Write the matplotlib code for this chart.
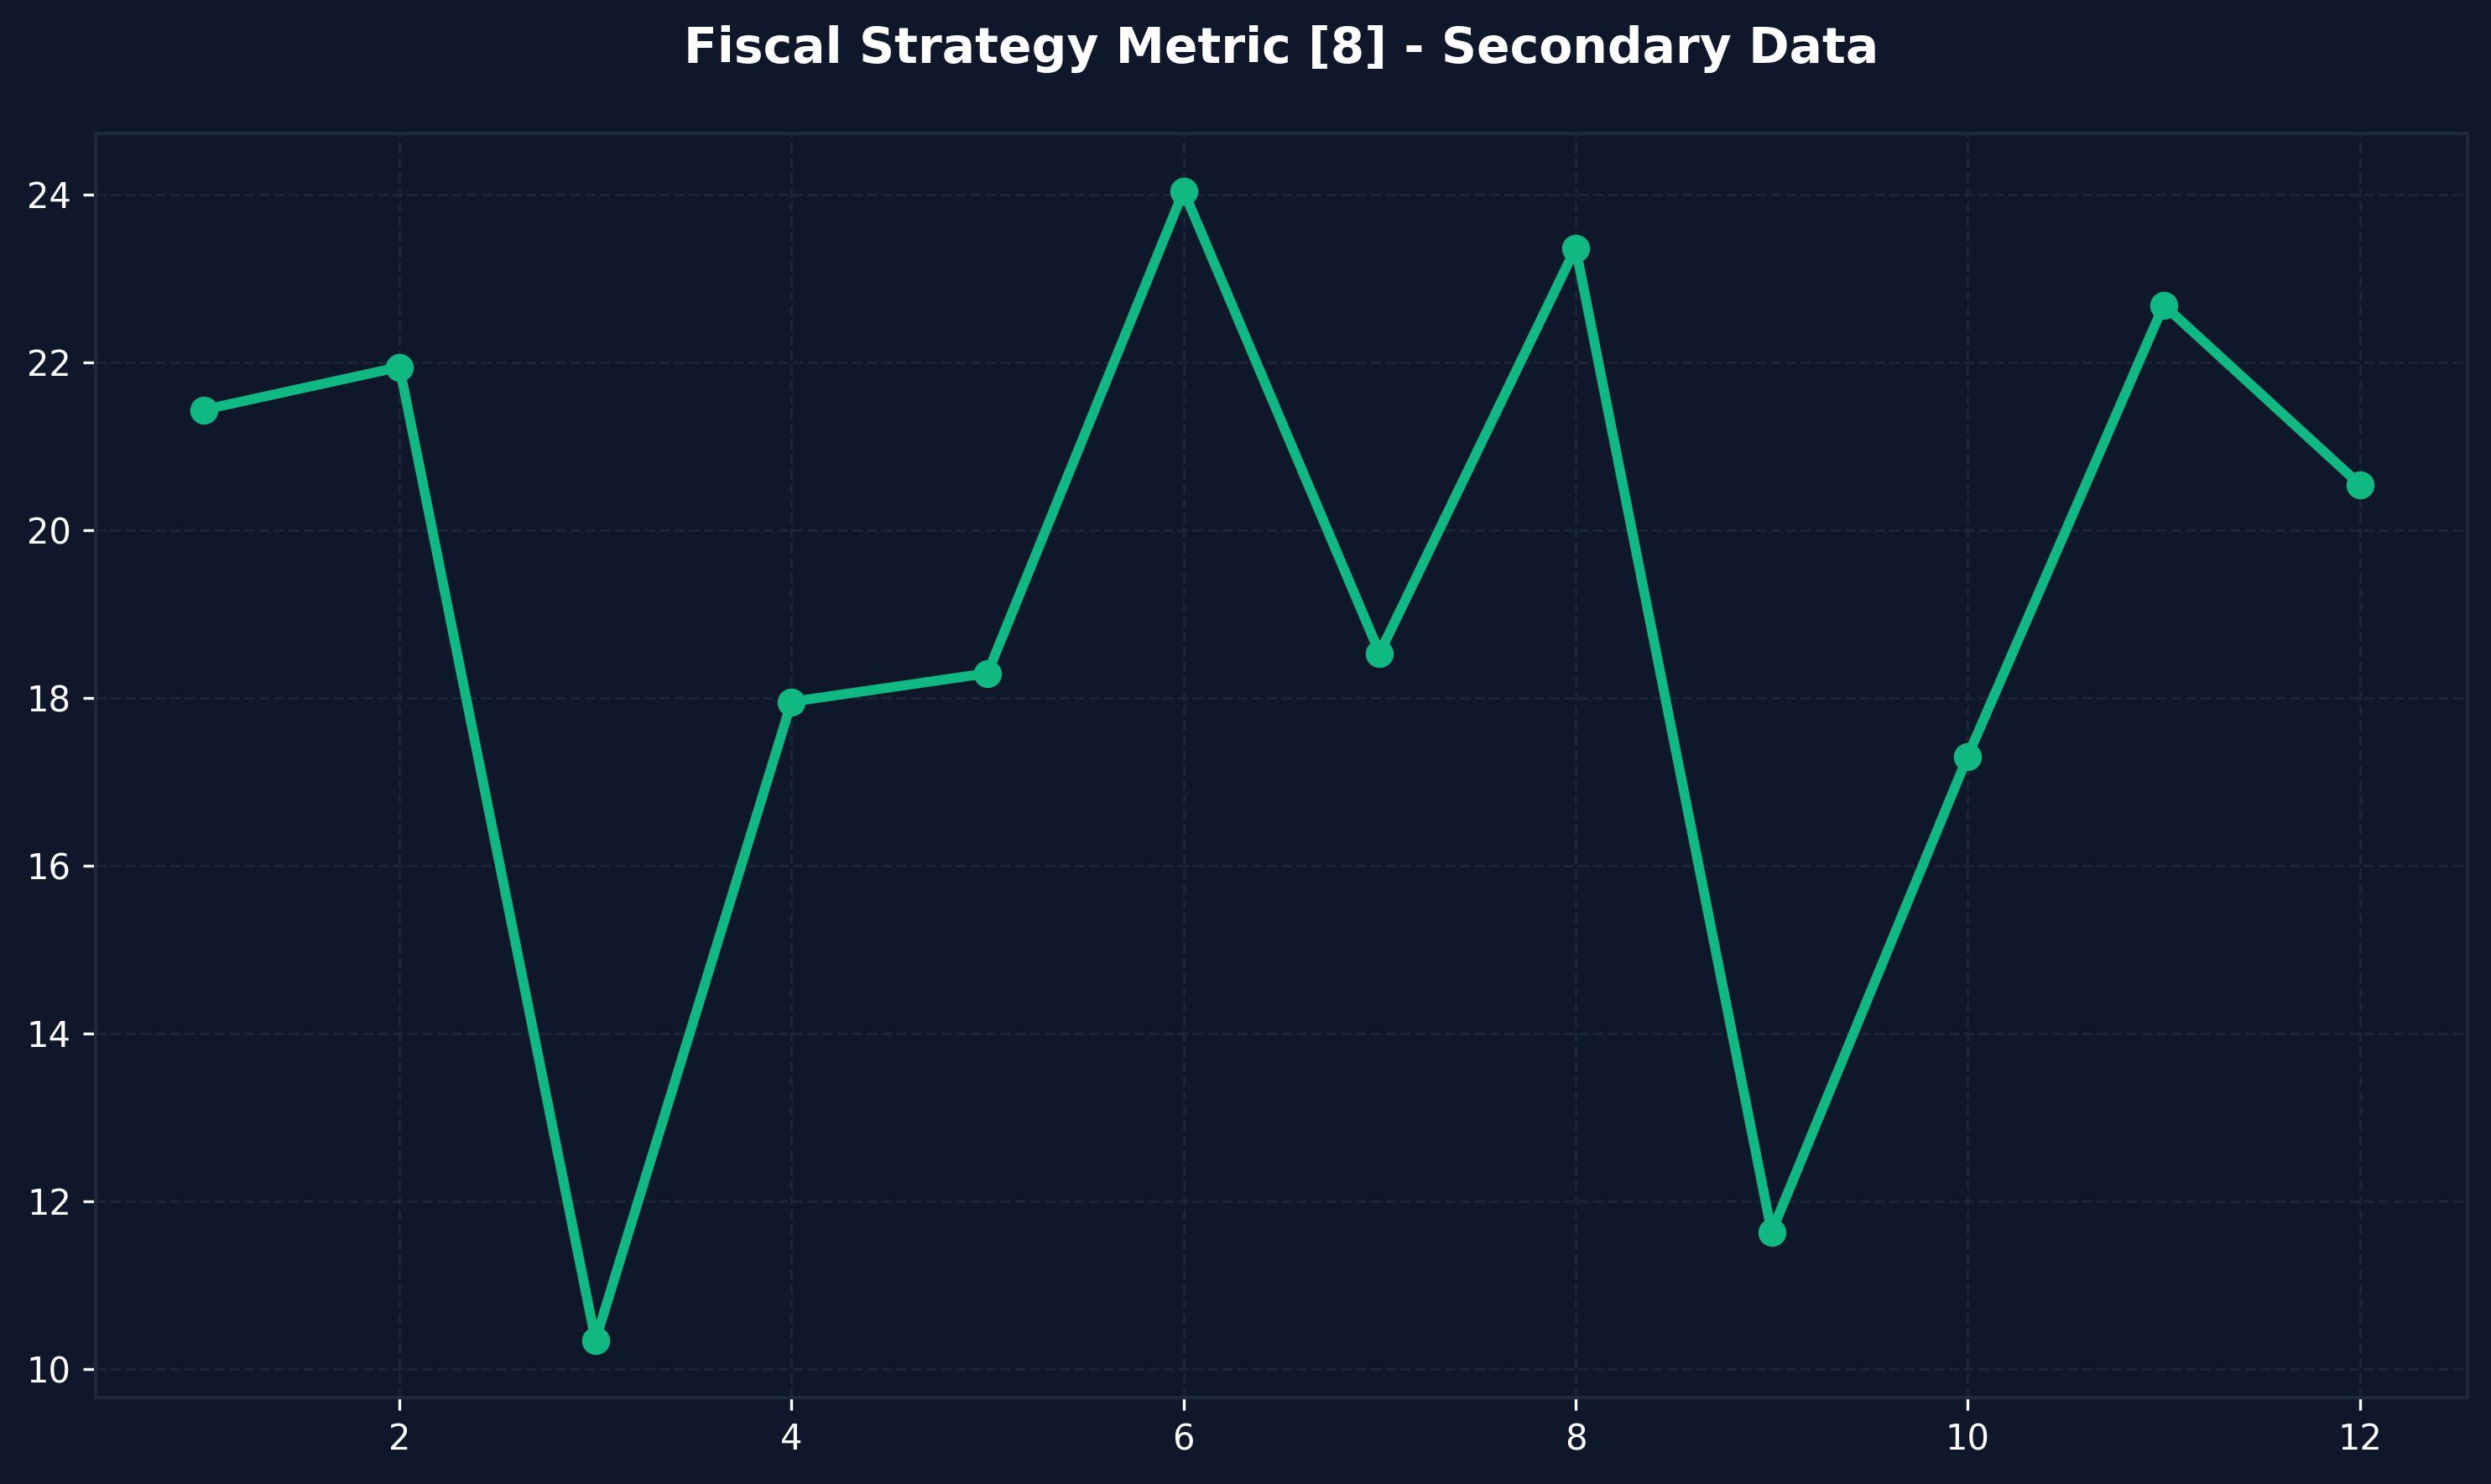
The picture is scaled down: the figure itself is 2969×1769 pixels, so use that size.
import matplotlib
matplotlib.use("Agg")
import matplotlib.pyplot as plt

# values
periods = [1, 2, 3, 4, 5, 6, 7, 8, 9, 10, 11, 12]
metric = [21.43, 21.94, 10.34, 17.95, 18.29, 24.04, 18.53, 23.36, 11.63, 17.30, 22.68, 20.54]

BG = "#0f172a"
LINE = "#10b981"
EDGE = "#1e293b"

fig = plt.figure(figsize=(2969 / 300, 1769 / 300), dpi=300, facecolor=BG)
ax = fig.add_axes([0.0384, 0.0582, 0.9522, 0.8519])
ax.set_facecolor(BG)

ax.plot(periods, metric, color=LINE, linewidth=2.8, marker="o", markersize=7)

ax.grid(True, color=EDGE, linestyle="--", linewidth=0.8, alpha=0.8)
for s in ax.spines.values():
    s.set_color(EDGE)
    s.set_linewidth(1)
ax.tick_params(colors="white", labelsize=10)

# title centred over the axes, not the figure
fig.text(0.0384 + 0.9522 / 2, 0.967, "Fiscal Strategy Metric [8] - Secondary Data",
         color="white", fontsize=14, fontweight="bold", ha="center", va="center")

fig.savefig("out.png", dpi=300, facecolor=BG)
